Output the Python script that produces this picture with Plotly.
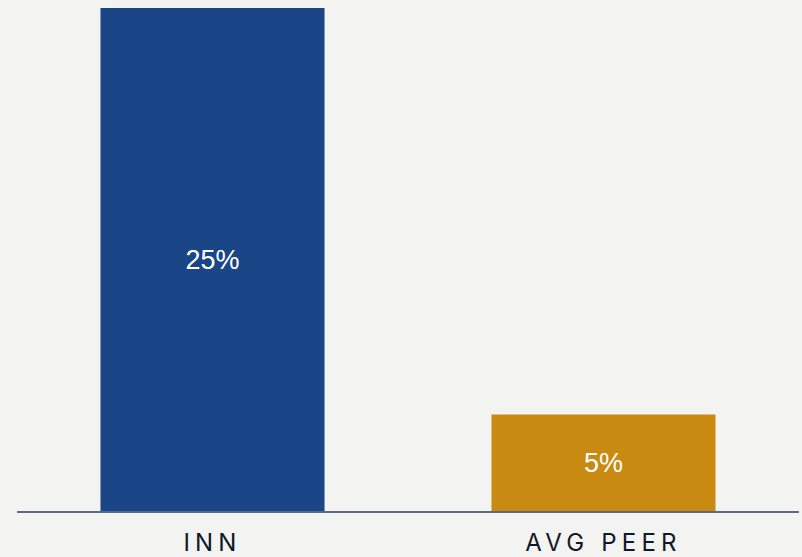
import plotly.graph_objects as go

categories = ["INN", "AVG PEER"]
values = [25, 4.8]
bar_colors = ["#1a4587", "#c98a12"]

fig = go.Figure(
    go.Bar(
        x=categories,
        y=values,
        marker=dict(color=bar_colors, line=dict(width=0)),
        texttemplate="%{y:.0f}%",
        textposition="inside",
        insidetextanchor="middle",
        textfont=dict(color="white", size=27, family="Liberation Sans, Arial, sans-serif"),
        hoverinfo="skip",
    )
)

fig.update_layout(
    width=802,
    height=557,
    margin=dict(l=17, r=3, t=8, b=46),
    paper_bgcolor="#f3f3f1",
    plot_bgcolor="#f3f3f1",
    bargap=0.427,
    showlegend=False,
    xaxis=dict(
        showgrid=False,
        showline=True,
        linecolor="#5b6b86",
        linewidth=1.5,
        ticks="",
        automargin=False,
        ticklabelstandoff=9,
        tickfont=dict(size=24, color="#111827", family="Inter, Liberation Sans, sans-serif"),
    ),
    yaxis=dict(
        range=[0, 25],
        visible=False,
        showgrid=False,
        zeroline=False,
        automargin=False,
    ),
)

post = """
document.body.style.margin='0';
document.body.style.background='#f3f3f1';
document.querySelectorAll('.xtick text').forEach(function(t){t.style.letterSpacing='5.2px';});
"""
fig.write_html("out.html", post_script=post, config={"displayModeBar": False})
